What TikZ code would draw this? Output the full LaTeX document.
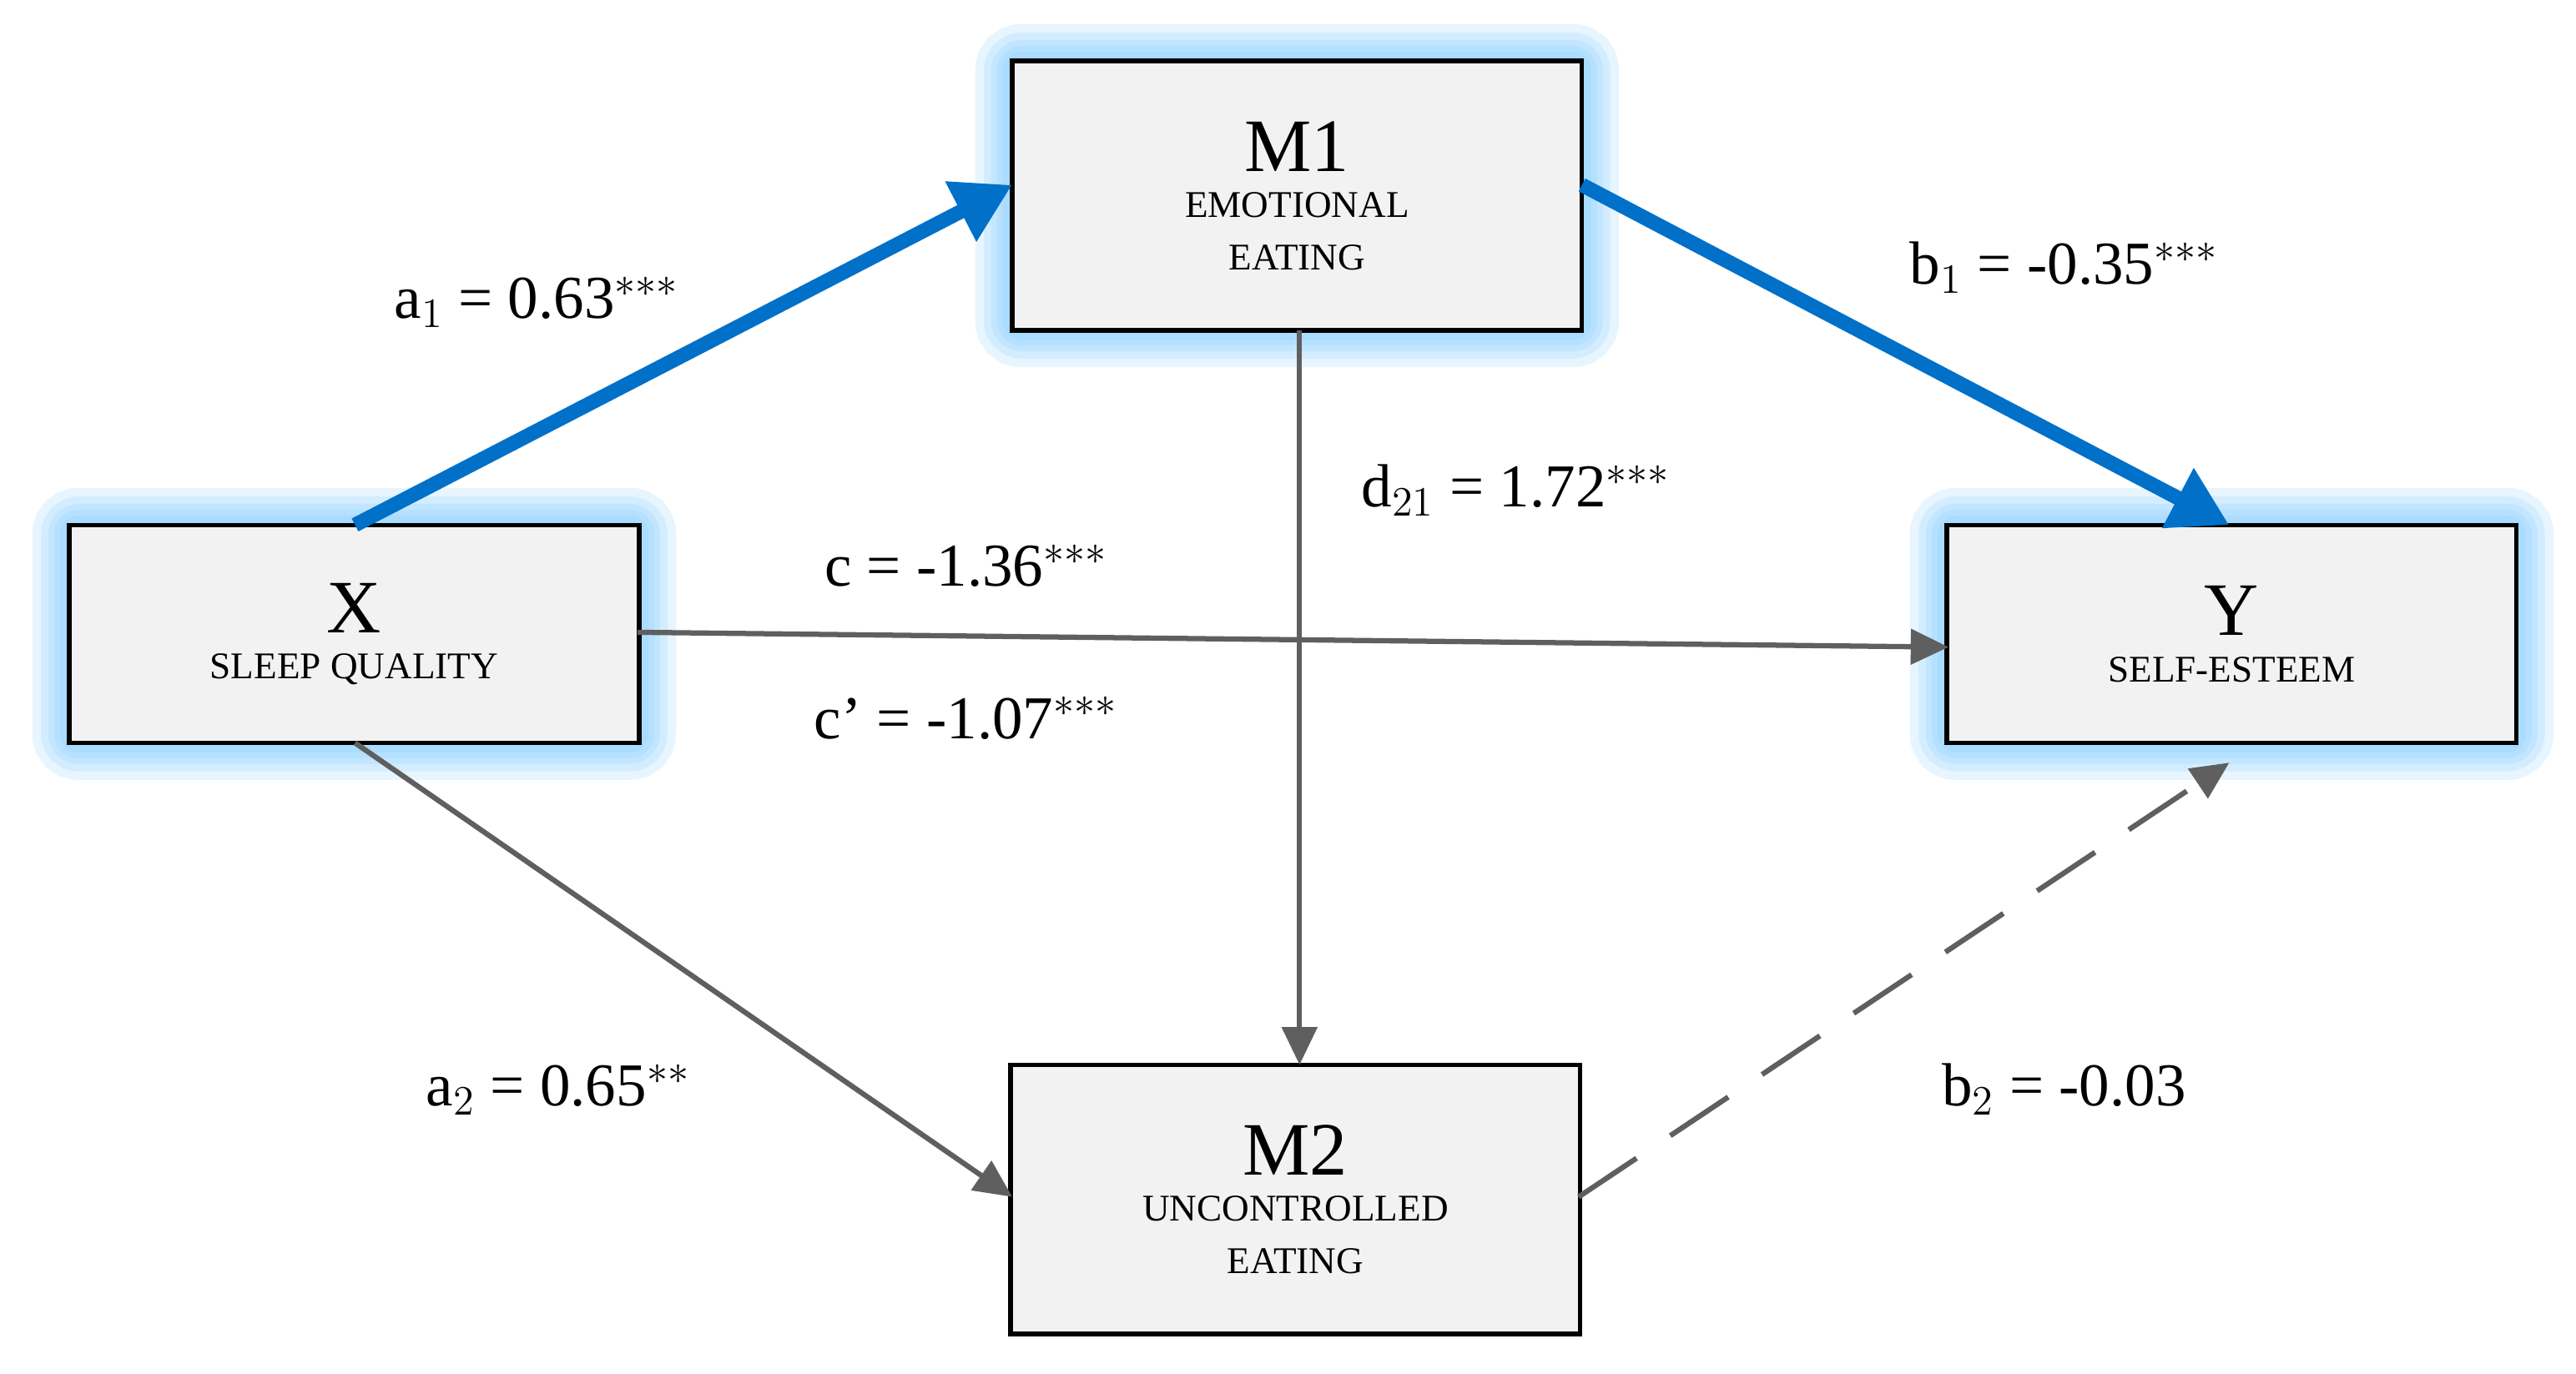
\documentclass[tikz,border=0pt]{standalone}
\usepackage{fontspec}
\setmainfont{Liberation Serif}
\usetikzlibrary{arrows.meta}
\definecolor{glowc}{RGB}{120,200,255}
\definecolor{bluel}{RGB}{0,112,200}
\definecolor{grayl}{RGB}{95,95,95}
\definecolor{boxf}{RGB}{242,242,242}
\tikzset{
 box/.style={draw=black,line width=1.6pt,fill=boxf,minimum width=6.9cm,minimum height=3.26cm,inner sep=0pt},
 xbox/.style={box,minimum height=2.64cm},
 glow/.style={draw=glowc,line width=#1,opacity=0.18,rounded corners=4pt},
 blu/.style={draw=bluel,line width=5pt,-{Triangle[length=20pt,width=22pt]}},
 gry/.style={draw=grayl,line width=1.8pt,-{Triangle[length=13pt,width=12pt]}},
 lab/.style={font=\fontsize{21}{24}\selectfont},
}
\newcommand{\glowit}[1]{\foreach \w in {24pt,18pt,13pt,9pt,5pt}{\draw[glow=\w] (#1.south west) rectangle (#1.north east);}}
\begin{document}
\begin{tikzpicture}[x=0.02cm,y=-0.02cm]
\useasboundingbox (0,0) rectangle (1560,832);
\path (785.5,118.5) coordinate (m1c);
\node[box] (M1) at (785.5,118.5) {};
\node[xbox] (X) at (214.5,384) {};
\node[xbox] (Y) at (1351.5,384) {};
\node[box] (M2) at (784.5,726.5) {};
\glowit{M1}\glowit{X}\glowit{Y}
\node[box] at (M1) {};
\node[xbox] at (X) {};
\node[xbox] at (Y) {};
\node[align=center,font=\fontsize{13}{18}\selectfont] at (M1) {\fontsize{26}{28}\selectfont M1\\[-2pt]EMOTIONAL\\EATING};
\node[align=center,font=\fontsize{13}{18}\selectfont] at (M2) {\fontsize{26}{28}\selectfont M2\\[-2pt]UNCONTROLLED\\EATING};
\node[align=center,font=\fontsize{13}{18}\selectfont] at (X) {\fontsize{26}{28}\selectfont X\\[-2pt]SLEEP QUALITY};
\node[align=center,font=\fontsize{13}{18}\selectfont] at (Y) {\fontsize{26}{28}\selectfont Y\\[-2pt]SELF-ESTEEM};
\coordinate (xt) at (215,318); \coordinate (m1l) at (613,112);
\coordinate (m1r) at (958,112); \coordinate (yt) at (1350,318);
\coordinate (xr) at (386,383); \coordinate (yl) at (1180,392);
\coordinate (m1b) at (787,200); \coordinate (m2t) at (787,645);
\coordinate (xb) at (215,450); \coordinate (m2l) at (613,725);
\coordinate (m2r) at (956,725); \coordinate (yb) at (1350,462);
\draw[gry] (xr) -- (yl);
\draw[gry] (m1b) -- (m2t);
\draw[gry] (xb) -- (m2l);
\draw[gry,dash pattern=on 24pt off 14pt] (m2r) -- (yb);
\draw[blu] (xt) -- (m1l);
\draw[blu] (m1r) -- (yt);
\node[lab] (la1) at (325,183) {a$_1$ = 0.63$^{***}$};
\node[lab] (lb1) at (1250,162) {b$_1$ = -0.35$^{***}$};
\node[lab] (lc) at (585,343) {c = -1.36$^{***}$};
\node[lab] (lcp) at (585,435) {c' = -1.07$^{***}$};
\node[lab] (ld) at (918,297) {d$_{21}$ = 1.72$^{***}$};
\node[lab] (la2) at (338,660) {a$_2$ = 0.65$^{**}$};
\node[lab] (lb2) at (1250,660) {b$_2$ = -0.03};
\end{tikzpicture}
\end{document}
